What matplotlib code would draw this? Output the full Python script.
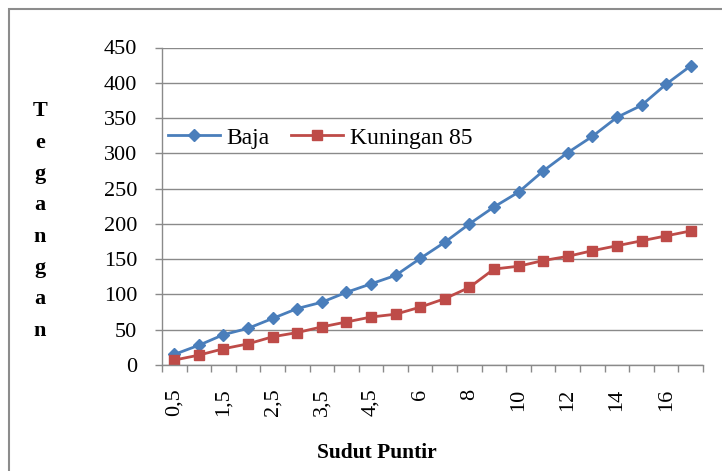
import matplotlib.pyplot as plt
from matplotlib.patches import Rectangle
import numpy as np

# Data
sudut = ['0,5', '1', '1,5', '2', '2,5', '3', '3,5', '4', '4,5', '5', '6',
         '7', '8', '9', '10', '11', '12', '13', '14', '15', '16', '17']
baja = [15, 28, 43, 52, 66, 80, 89, 103, 115, 127, 151,
        174, 200, 224, 245, 275, 301, 324, 351, 368, 398, 424]
kuningan = [7, 14, 23, 30, 40, 46, 54, 61, 68, 72, 82,
            94, 110, 136, 140, 148, 154, 162, 169, 176, 183, 190]
yticks = [0, 50, 100, 150, 200, 250, 300, 350, 400, 450]

plt.rcParams['font.family'] = ['Liberation Serif', 'DejaVu Serif']

fig = plt.figure(figsize=(7.22, 4.71), dpi=100)
ax = fig.add_axes([162 / 722, 1 - 365 / 471, 541 / 722, 317.5 / 471])

# outer chart frame (cut off at right and bottom)
fig.patches.append(Rectangle((9 / 722, -0.1), 1.2, 1.1 - 9 / 471,
                             transform=fig.transFigure, fill=False,
                             edgecolor='#8c8c8c', linewidth=1.5, zorder=0))

x = np.arange(len(sudut))
ax.plot(x, baja, color='#4a7ebb', marker='D', markersize=6, linewidth=2, label='Baja')
ax.plot(x, kuningan, color='#be4b48', marker='s', markersize=7, linewidth=2, label='Kuningan 85')

ax.set_xlim(-0.5, len(sudut) - 0.5)
ax.set_ylim(0, 450)
ax.set_yticks(yticks)
ax.yaxis.grid(True, color='#8a8a8a', linewidth=1)
ax.set_axisbelow(True)

# x labels every other category, tick marks at category boundaries
ax.set_xticks(x[::2])
ax.set_xticklabels(sudut[::2], rotation=90, va='top', ha='center')
ax.set_xticks(np.arange(-0.5, len(sudut)), minor=True)
ax.tick_params(axis='x', which='major', length=0, pad=17, labelsize=16)
ax.tick_params(axis='x', which='minor', length=5, color='#8a8a8a', width=1)
ax.tick_params(axis='y', length=5, color='#8a8a8a', width=1, pad=13, labelsize=16)

for s in ['top', 'right']:
    ax.spines[s].set_visible(False)
for s in ['left', 'bottom']:
    ax.spines[s].set_color('#8a8a8a')
    ax.spines[s].set_linewidth(1)

ax.legend(loc='center left', bbox_to_anchor=(0.012, 0.715), frameon=False,
          ncol=2, fontsize=17, handlelength=2.2, handletextpad=0.27,
          columnspacing=0.9, borderaxespad=0, borderpad=0)

fig.text(377 / 722, 1 - 453 / 471, 'Sudut Puntir', ha='center', va='center',
         fontsize=15.5, fontweight='bold')
fig.text(40 / 722, 1 - 221 / 471, 'T\ne\ng\na\nn\ng\na\nn', ha='center', va='center',
         fontsize=16, fontweight='bold', linespacing=1.76)

fig.savefig('out.png', dpi=100)
